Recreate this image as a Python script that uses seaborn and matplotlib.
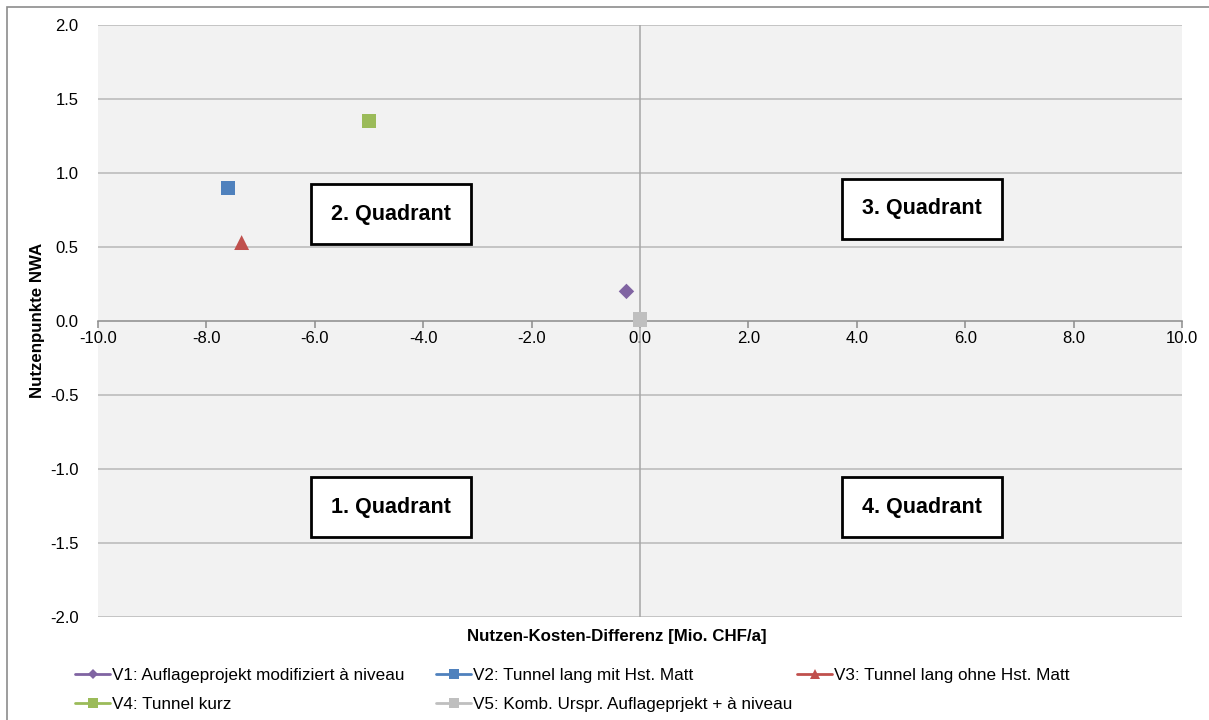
import matplotlib
matplotlib.use("Agg")
import matplotlib.pyplot as plt
from matplotlib.lines import Line2D
from matplotlib.patches import Rectangle
import seaborn as sns
import pandas as pd

# Variants: net cost-benefit difference vs. utility points
variants = [
    "V1: Auflageprojekt modifiziert à niveau",
    "V2: Tunnel lang mit Hst. Matt",
    "V3: Tunnel lang ohne Hst. Matt",
    "V4: Tunnel kurz",
    "V5: Komb. Urspr. Auflageprjekt + à niveau",
]
kosten_differenz = [-0.25, -7.6, -7.35, -5.0, 0.0]
nutzenpunkte = [0.20, 0.90, 0.53, 1.35, 0.01]

colors = ["#8064A2", "#4F81BD", "#C0504D", "#9BBB59", "#BFBFBF"]
markers = ["D", "s", "^", "s", "s"]
marker_area = [62, 100, 115, 105, 105]

quadrant_labels = ["1. Quadrant", "2. Quadrant", "3. Quadrant", "4. Quadrant"]
quadrant_x = [-4.6, -4.6, 5.2, 5.2]
quadrant_y = [-1.26, 0.72, 0.76, -1.26]

x_ticks = [-10, -8, -6, -4, -2, 0, 2, 4, 6, 8, 10]
y_ticks = [-2.0, -1.5, -1.0, -0.5, 0.0, 0.5, 1.0, 1.5, 2.0]

df = pd.DataFrame({"Variante": variants, "x": kosten_differenz, "y": nutzenpunkte})

sns.set_theme(style="white")
plt.rcParams["font.family"] = ["Liberation Sans", "DejaVu Sans"]
plt.rcParams["text.color"] = "black"

W, H = 1209, 720
fig = plt.figure(figsize=(W / 100, H / 100), dpi=100)
ax = fig.add_axes([98 / W, 1 - 617 / H, (1182 - 98) / W, (617 - 25) / H])
ax.set_facecolor("#F2F2F2")

# chart frame (left and top edges lie inside the canvas)
fig.patches.append(Rectangle((7 / W, -0.05), 1.2, 1.05 - 7 / H,
                             transform=fig.transFigure, fill=False,
                             edgecolor="#8C8C8C", linewidth=1.2, zorder=0))

sns.scatterplot(data=df, x="x", y="y", hue="Variante", style="Variante",
                size="Variante",
                palette=dict(zip(variants, colors)),
                markers=dict(zip(variants, markers)),
                sizes=dict(zip(variants, marker_area)),
                linewidth=0, ax=ax, legend=False, zorder=5)

ax.set_xlim(-10, 10)
ax.set_ylim(-2, 2)
ax.set_xticks(x_ticks)
ax.set_xticklabels([f"{v:.1f}" for v in x_ticks])
ax.set_yticks(y_ticks)
ax.set_yticklabels([f"{v:.1f}" for v in y_ticks])

# horizontal gridlines, y-axis line through zero
for yv in y_ticks:
    if yv != 0:
        ax.axhline(yv, color="#B8B8B8", linewidth=1.1, zorder=1)
ax.axvline(0, color="#A6A6A6", linewidth=1.1, zorder=1)

for s in ["left", "right", "top"]:
    ax.spines[s].set_visible(False)
ax.spines["bottom"].set_position(("data", 0))
ax.spines["bottom"].set_color("#8C8C8C")
ax.spines["bottom"].set_linewidth(1.1)
ax.spines["bottom"].set_zorder(2)

ax.tick_params(axis="x", direction="out", length=5, width=1.1, color="#8C8C8C",
               labelsize=12, pad=2, bottom=True, labelcolor="black")
ax.tick_params(axis="y", length=0, labelsize=12, pad=14, left=False,
               labelcolor="black")

ax.set_xlabel("")
ax.set_ylabel("")
fig.text(617 / W, 1 - 636 / H, "Nutzen-Kosten-Differenz [Mio. CHF/a]",
         ha="center", va="center", fontsize=12.2, fontweight="bold")
fig.text(38 / W, 1 - 320 / H, "Nutzenpunkte NWA", rotation=90,
         ha="center", va="center", fontsize=12.2, fontweight="bold")

# quadrant labels in fixed-size boxes
bw, bh = 160 / 54.2, 60 / 148.0
for lab, qx, qy in zip(quadrant_labels, quadrant_x, quadrant_y):
    ax.add_patch(Rectangle((qx - bw / 2, qy - bh / 2), bw, bh, facecolor="white",
                           edgecolor="black", linewidth=2, zorder=5.5))
    ax.text(qx, qy, lab, ha="center", va="center", fontsize=15.5,
            fontweight="bold", color="black", zorder=6)

# legend in three columns (row-wise order)
def handle(i):
    return Line2D([0], [0], color=colors[i], marker=markers[i],
                  markersize=6.5 if markers[i] != "D" else 5.5,
                  linewidth=2.0, markeredgewidth=0)

columns = [[0, 3], [1, 4], [2]]
col_x = [75, 436, 797]
for idxs, cx in zip(columns, col_x):
    leg = fig.legend([handle(i) for i in idxs], [variants[i] for i in idxs],
                     loc="upper left", bbox_to_anchor=(cx / W, 1 - 668 / H),
                     frameon=False, fontsize=12.3, handlelength=2.05,
                     handletextpad=0.1, labelspacing=0.8, borderpad=0,
                     borderaxespad=0)
    for t in leg.get_texts():
        t.set_color("black")

fig.savefig("out.png", dpi=100)
